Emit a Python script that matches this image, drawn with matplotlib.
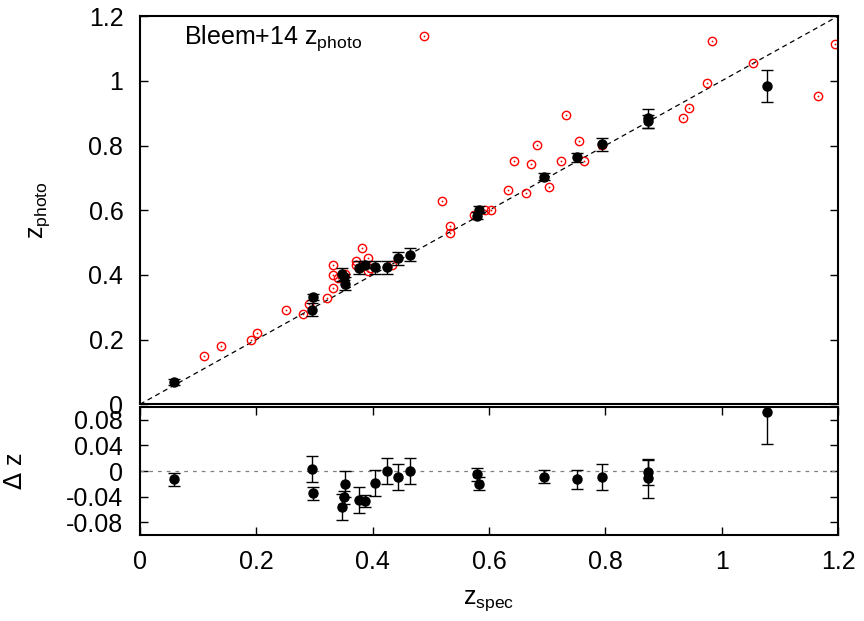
import matplotlib
matplotlib.use('Agg')
import matplotlib.pyplot as plt

plt.rcParams['font.family'] = ['Liberation Sans', 'DejaVu Sans']
plt.rcParams['axes.unicode_minus'] = False

# clusters with errors (black)
zspec = [0.058, 0.296, 0.298, 0.347, 0.351, 0.352, 0.377, 0.386, 0.404, 0.424,
         0.443, 0.464, 0.579, 0.583, 0.695, 0.751, 0.795, 0.873, 0.873, 1.078]
zphot = [0.069, 0.292, 0.332, 0.402, 0.393, 0.373, 0.422, 0.432, 0.423, 0.423,
         0.452, 0.463, 0.583, 0.602, 0.704, 0.763, 0.804, 0.875, 0.884, 0.985]
zphot_err = [0.01, 0.02, 0.01, 0.02, 0.01, 0.02, 0.02, 0.01, 0.02, 0.02,
             0.02, 0.02, 0.01, 0.01, 0.01, 0.015, 0.02, 0.02, 0.03, 0.05]
dz = [-0.013, 0.003, -0.035, -0.056, -0.041, -0.020, -0.045, -0.047, -0.019, 0.0,
      -0.009, 0.0, -0.005, -0.020, -0.009, -0.013, -0.009, -0.002, -0.0115, 0.093]
dz_err = [0.01, 0.02, 0.01, 0.02, 0.01, 0.02, 0.02, 0.01, 0.02, 0.02,
          0.02, 0.02, 0.01, 0.01, 0.01, 0.015, 0.02, 0.02, 0.03, 0.05]

# Bleem+14 photo-z (red)
bleem_spec = [0.110, 0.140, 0.191, 0.201, 0.251, 0.281, 0.291, 0.322, 0.331, 0.331,
              0.331, 0.341, 0.352, 0.372, 0.372, 0.382, 0.392, 0.392, 0.395, 0.433,
              0.488, 0.520, 0.533, 0.533, 0.574, 0.593, 0.603, 0.633, 0.643, 0.663,
              0.673, 0.683, 0.703, 0.723, 0.733, 0.754, 0.763, 0.794, 0.934, 0.944,
              0.974, 0.984, 1.054, 1.165, 1.195]
bleem_phot = [0.149, 0.180, 0.200, 0.221, 0.291, 0.280, 0.311, 0.330, 0.361, 0.401,
              0.431, 0.391, 0.404, 0.442, 0.432, 0.482, 0.451, 0.411, 0.421, 0.430,
              1.139, 0.630, 0.531, 0.550, 0.585, 0.602, 0.602, 0.662, 0.753, 0.652,
              0.742, 0.803, 0.672, 0.753, 0.894, 0.813, 0.753, 0.803, 0.884, 0.915,
              0.994, 1.124, 1.056, 0.953, 1.114]

fs = 18
fig = plt.figure(figsize=(8.64, 6.21), dpi=100)
ax = fig.add_axes([0.162, 0.349, 0.808, 0.625])
ax2 = fig.add_axes([0.162, 0.1385, 0.808, 0.206])

ax.plot([0, 1.2], [0, 1.2], color='black', linestyle=(0, (4, 3)), lw=0.9)
ax.plot(bleem_spec, bleem_phot, 'o', mfc='none', mec='red', ms=6, mew=1.0)
ax.plot(bleem_spec, bleem_phot, 'o', color='red', ms=1.3, mew=0)
ax.errorbar(zspec, zphot, yerr=zphot_err, fmt='o', color='black', ms=6.5,
            capsize=4, elinewidth=1, capthick=1)
ax.text(0.075, 1.115, r'Bleem+14 $\mathregular{z_{photo}}$', fontsize=fs)

ax.set_xlim(0, 1.2)
ax.set_ylim(0, 1.2)
ax.set_yticks([0, 0.2, 0.4, 0.6, 0.8, 1.0, 1.2])
ax.set_yticklabels(['0', '0.2', '0.4', '0.6', '0.8', '1', '1.2'])
ax.set_xticks([])
ax.set_ylabel(r'$\mathregular{z_{photo}}$', fontsize=fs, labelpad=26)

ax2.axhline(0, color='gray', linestyle=(0, (3, 4)), lw=0.9)
ax2.errorbar(zspec, dz, yerr=dz_err, fmt='o', color='black', ms=6.5,
             capsize=4, elinewidth=1, capthick=1)
ax2.set_xlim(0, 1.2)
ax2.set_ylim(-0.1, 0.1)
ax2.set_yticks([-0.08, -0.04, 0, 0.04, 0.08])
ax2.set_yticklabels(['-0.08', '-0.04', '0', '0.04', '0.08'])
ax2.set_xticks([0, 0.2, 0.4, 0.6, 0.8, 1.0, 1.2])
ax2.set_xticklabels(['0', '0.2', '0.4', '0.6', '0.8', '1', '1.2'])
ax2.set_xlabel(r'$\mathregular{z_{spec}}$', fontsize=fs, labelpad=10)
ax2.set_ylabel(r'$\Delta$ z', fontsize=fs, labelpad=28)

for a in (ax, ax2):
    a.tick_params(direction='in', length=6, width=1, labelsize=fs,
                  top=True, right=True)
    a.tick_params(axis='y', pad=12)
    a.tick_params(axis='x', pad=11)
    for s in a.spines.values():
        s.set_linewidth(1.5)

fig.savefig('out.png', dpi=100)
